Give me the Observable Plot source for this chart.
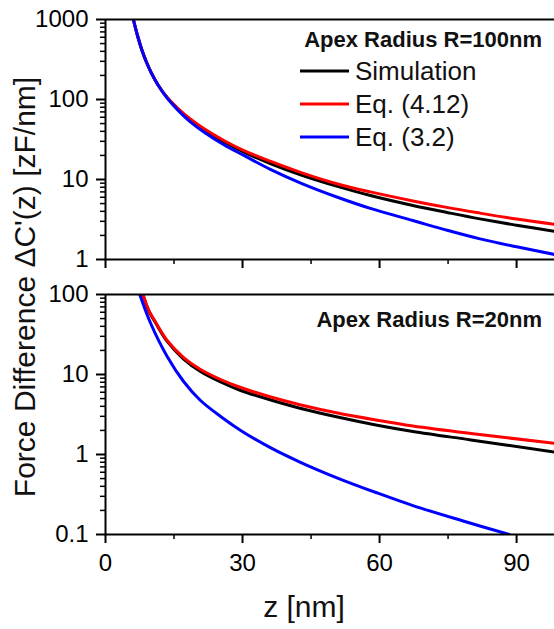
<!DOCTYPE html>
<html><head><meta charset="utf-8">
<script src="https://cdn.jsdelivr.net/npm/d3@7"></script>
<script src="https://cdn.jsdelivr.net/npm/@observablehq/plot@0.6"></script>
<style>
body{margin:0;background:#fff;font-family:"Liberation Sans",Arial,sans-serif;}
#wrap{position:relative;width:554px;height:629px;overflow:hidden;background:#fff}
#wrap > svg{position:absolute;left:0}
</style></head><body><div id="wrap"></div>
<script>
// ---- data ----
const series = ["Simulation", "Eq. (4.12)", "Eq. (3.2)"];
const colors = ["#000000", "#ff0000", "#0000ff"];
const panelTitles = ["Apex Radius R=100nm", "Apex Radius R=20nm"];

// Top panel: R = 100 nm
const zTop     = [6.1, 7, 8, 9, 10, 11.5, 13.5, 16, 18.5, 21.6, 26, 30.3, 36.2, 43, 50.8, 58, 67.3, 75, 82, 90, 98.5];
const simTop   = [1000, 631, 410, 290, 217, 152, 106, 75, 56, 41.6, 29.4, 22, 15.7, 11.3, 8.2, 6.3, 4.73, 3.85, 3.22, 2.68, 2.24];
const eq412Top = [1000, 631, 410, 290, 217, 152, 106, 76, 57.5, 43, 30.5, 23, 16.8, 12.1, 8.8, 7.0, 5.4, 4.45, 3.8, 3.2, 2.74];
const eq32Top  = [1000, 631, 410, 290, 217, 152, 104, 72, 53, 39, 27, 20, 13.3, 8.9, 6.0, 4.35, 3.07, 2.3, 1.81, 1.44, 1.15];

// Bottom panel: R = 20 nm
const zBot     = [8.2, 9.4, 11, 13.5, 17.1, 20.8, 25.2, 29.6, 36.2, 42.8, 50.8, 59.2, 67.3, 80, 98.5];
const simBot   = [100, 64, 44, 25.9, 15.6, 10.9, 8.06, 6.31, 4.80, 3.76, 2.94, 2.34, 1.94, 1.52, 1.07];
const eq412Bot = [100, 64.9, 44.7, 26.6, 16.3, 11.55, 8.66, 6.88, 5.23, 4.16, 3.30, 2.70, 2.27, 1.83, 1.38];
const zBlueBot = [7.5, 9.9, 13.5, 17.1, 20.8, 25.2, 29.6, 36.2, 42.8, 50.8, 59.2, 67.3, 78.3, 88.4];
const eq32Bot  = [100, 43.4, 16.8, 8.18, 4.73, 2.99, 2.0, 1.21, 0.794, 0.508, 0.335, 0.23, 0.1475, 0.1];

// axis ticks
const xDomain = [0, 98.3];
const xMajor = [0, 30, 60, 90];
const xMinor = [15, 45, 75];
const yMajorTop = [1, 10, 100, 1000];
const yMajorBot = [0.1, 1, 10, 100];
const xLabel = "z [nm]";
const yLabel = "Force Difference \u0394C'(z) [zF/nm]";

// ---- build tables ----
function rows(zs, vs, name) { return zs.map((z, i) => ({z, v: vs[i], series: name})); }
const topRows = [...rows(zTop, simTop, series[0]), ...rows(zTop, eq412Top, series[1]), ...rows(zTop, eq32Top, series[2])];
const botRows = [...rows(zBot, simBot, series[0]), ...rows(zBot, eq412Bot, series[1]), ...rows(zBlueBot, eq32Bot, series[2])];
function minorTicks(domain) {
  const out = [];
  for (let d = domain[0]; d < domain[1]; d *= 10) for (let k = 2; k <= 9; k++) out.push(+(d * k).toPrecision(3));
  return out;
}

const FONT = "'Liberation Sans', Arial, sans-serif";
function panel({data, yDomain, yMajor, showXLabels, height, marginTop, marginBottom}) {
  return Plot.plot({
    width: 554, height, marginLeft: 105, marginRight: 0, marginTop, marginBottom,
    style: {background: "transparent", fontFamily: FONT, fontSize: "24px", color: "#000", overflow: "visible"},
    x: {domain: xDomain},
    y: {type: "log", domain: yDomain},
    color: {domain: series, range: colors},
    marks: [
      Plot.line(data, {x: "z", y: "v", z: "series", stroke: "series", strokeWidth: 3, curve: "catmull-rom", clip: true}),
      Plot.ruleX([xDomain[0]], {strokeWidth: 2}),
      Plot.ruleY([yDomain[0]], {strokeWidth: 2}),
      Plot.ruleY([yDomain[1]], {strokeWidth: 2}),
      Plot.axisY(yMajor, {tickSize: 9, tickPadding: 8, strokeWidth: 2, tickFormat: d => String(d), fontSize: 24, label: null}),
      Plot.axisY(minorTicks(yDomain), {tickSize: 5, strokeWidth: 1.5, fill: "none", label: null}),
      Plot.axisX(xMajor, {tickSize: 9, tickPadding: 10, strokeWidth: 2, fill: showXLabels ? "currentColor" : "none", tickFormat: d => String(d), fontSize: 24, label: null}),
      Plot.axisX(xMinor, {tickSize: 5, strokeWidth: 1.5, fill: "none", label: null})
    ]
  });
}

const wrap = document.getElementById("wrap");
const top1 = panel({data: topRows, yDomain: [1, 1000], yMajor: yMajorTop, showXLabels: false, height: 280, marginTop: 19, marginBottom: 21});
top1.style.top = "0px";
wrap.appendChild(top1);
const bot1 = panel({data: botRows, yDomain: [0.1, 100], yMajor: yMajorBot, showXLabels: true, height: 349, marginTop: 14, marginBottom: 95});
bot1.style.top = "280px";
wrap.appendChild(bot1);

// ---- overlay: legend, panel titles, axis titles ----
const ov = d3.select(wrap).append("svg")
  .attr("width", 554).attr("height", 629)
  .style("top", "0px").style("pointer-events", "none")
  .style("font-family", FONT);

ov.append("text").attr("x", 542).attr("y", 47).attr("text-anchor", "end")
  .attr("font-weight", "bold").attr("font-size", 22).attr("fill", "#111").text(panelTitles[0]);
ov.append("text").attr("x", 542).attr("y", 327).attr("text-anchor", "end")
  .attr("font-weight", "bold").attr("font-size", 22).attr("fill", "#111").text(panelTitles[1]);

series.forEach((s, i) => {
  const yLine = 71 + i * 33;
  ov.append("line").attr("x1", 300).attr("x2", 349).attr("y1", yLine).attr("y2", yLine)
    .attr("stroke", colors[i]).attr("stroke-width", 3);
  ov.append("text").attr("x", 355).attr("y", yLine + 9).attr("font-size", 26).attr("fill", "#111").text(s);
});

ov.append("text").attr("transform", "translate(35,287) rotate(-90)").attr("text-anchor", "middle")
  .attr("font-size", 30).attr("fill", "#111").text(yLabel);
ov.append("text").attr("x", 304).attr("y", 617).attr("text-anchor", "middle")
  .attr("font-size", 30).attr("fill", "#111").text(xLabel);
</script></body></html>
